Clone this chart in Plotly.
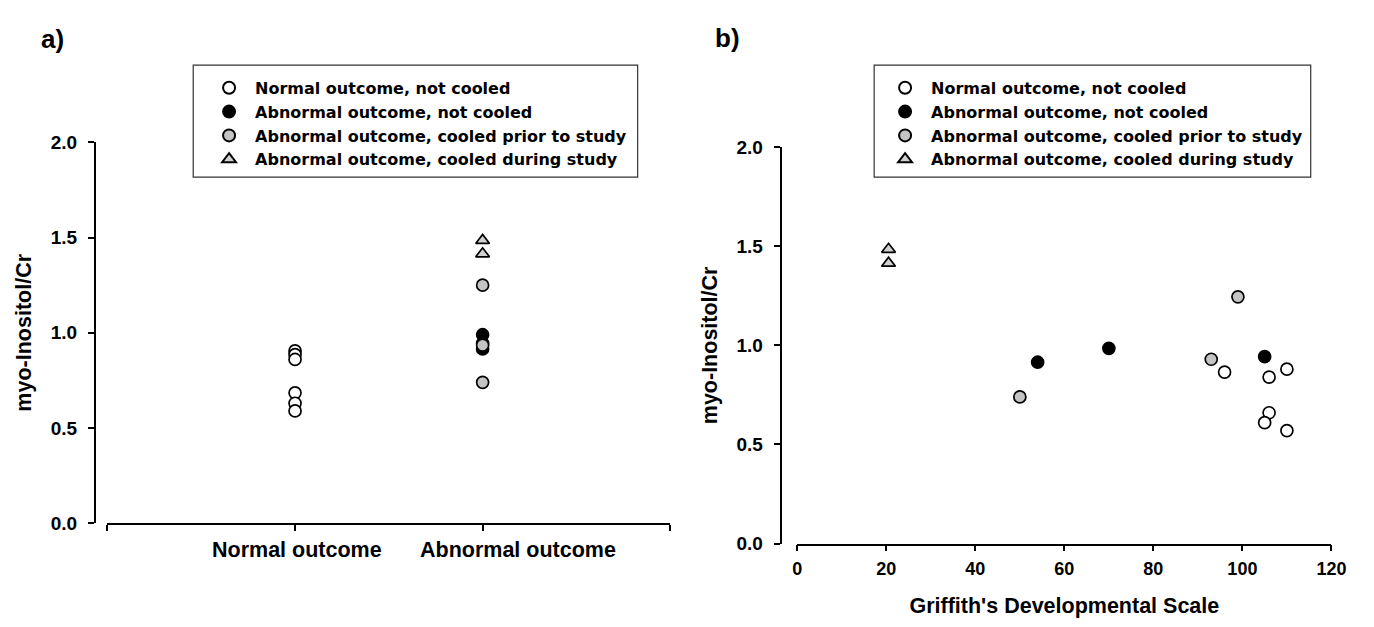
import plotly.graph_objects as go

# ---------------- data ----------------
categories = ["Normal outcome", "Abnormal outcome"]
series_names = [
    "Normal outcome, not cooled",
    "Abnormal outcome, not cooled",
    "Abnormal outcome, cooled prior to study",
    "Abnormal outcome, cooled during study",
]

# panel a: myo-Inositol/Cr by outcome group
a_normal_not_cooled = [0.905, 0.885, 0.86, 0.685, 0.63, 0.59]
a_abn_not_cooled = [0.99, 0.945, 0.915]
a_abn_cooled_prior = [1.25, 0.935, 0.74]
a_abn_cooled_during = [1.485, 1.415]

# panel b: Griffith's score vs myo-Inositol/Cr
b_normal_x = [96, 106, 110, 106, 105, 110]
b_normal_y = [0.865, 0.84, 0.88, 0.66, 0.61, 0.57]
b_abn_nc_x = [54, 70, 105]
b_abn_nc_y = [0.915, 0.985, 0.943]
b_prior_x = [50, 93, 99]
b_prior_y = [0.74, 0.93, 1.245]
b_during_x = [20.5, 20.5]
b_during_y = [1.485, 1.415]

y_ticks = [0.0, 0.5, 1.0, 1.5, 2.0]
b_x_ticks = [0, 20, 40, 60, 80, 100, 120]

# ---------------- styles ----------------
FONT = "Liberation Sans, Arial, sans-serif"
LEG_FONT = "DejaVu Sans, sans-serif"
GRAY = "#c4c4c4"
styles = [
    dict(symbol="circle", color="white"),
    dict(symbol="circle", color="black"),
    dict(symbol="circle", color=GRAY),
    dict(symbol="triangle-up", color="#d0d0d0"),
]

W, H = 1374, 627
def px(x):
    return x / W
def py(y):
    return 1 - y / H

fig = go.Figure()

a_values = [a_normal_not_cooled, a_abn_not_cooled, a_abn_cooled_prior, a_abn_cooled_during]
a_cat = [1, 2, 2, 2]
for name, vals, cat, st in zip(series_names, a_values, a_cat, styles):
    fig.add_trace(go.Scatter(
        x=[cat] * len(vals), y=vals, mode="markers", name=name,
        marker=dict(symbol=st["symbol"], color=st["color"], size=12,
                    line=dict(color="black", width=1.7)),
        xaxis="x", yaxis="y", legend="legend", cliponaxis=False,
    ))

b_xs = [b_normal_x, b_abn_nc_x, b_prior_x, b_during_x]
b_ys = [b_normal_y, b_abn_nc_y, b_prior_y, b_during_y]
for name, xs, ys, st in zip(series_names, b_xs, b_ys, styles):
    fig.add_trace(go.Scatter(
        x=xs, y=ys, mode="markers", name=name,
        marker=dict(symbol=st["symbol"], color=st["color"], size=12,
                    line=dict(color="black", width=1.7)),
        xaxis="x2", yaxis="y2", legend="legend2", cliponaxis=False,
    ))

ytick_font = dict(family=FONT, size=19, color="black", weight="bold")
xtick_font = dict(family=FONT, size=18, color="black", weight="bold")
title_font = dict(family=FONT, size=21.5, color="black", weight="bold")
axis_common = dict(showline=True, linecolor="black", linewidth=1.6, ticks="outside",
                   ticklen=6, tickwidth=1.5, tickcolor="black", showgrid=False,
                   zeroline=False)

leg_common = dict(xanchor="left", yanchor="top", borderwidth=0,
                  bgcolor="rgba(0,0,0,0)",
                  font=dict(family=LEG_FONT, size=16, color="black", weight="bold"),
                  itemwidth=42, itemsizing="constant", traceorder="normal")

fig.update_layout(
    width=W, height=H,
    margin=dict(l=0, r=0, t=0, b=0),
    paper_bgcolor="white", plot_bgcolor="white",
    font=dict(family=FONT, color="black"),
    xaxis=dict(domain=[px(104), px(675)], range=[0, 3], anchor="y",
               tickvals=[0, 1, 2, 3], ticktext=["", "", "", ""],
               tickfont=xtick_font, **axis_common),
    yaxis=dict(domain=[py(531), py(137)], range=[0, 2], anchor="free", position=px(91),
               tickvals=y_ticks, ticktext=[f"{v:.1f}" for v in y_ticks],
               ticklabelstandoff=7, tickfont=ytick_font,
               title=dict(text="myo-Inositol/Cr", font=title_font, standoff=12),
               **axis_common),
    xaxis2=dict(domain=[px(804), px(1346)], range=[0, 120], anchor="y2",
                tickvals=b_x_ticks, ticklabelstandoff=2, tickfont=xtick_font,
                title=dict(text="Griffith's Developmental Scale", font=title_font, standoff=20),
                **axis_common),
    yaxis2=dict(domain=[py(552), py(142)], range=[0, 2], anchor="free", position=px(787),
                tickvals=y_ticks, ticktext=[f"{v:.1f}" for v in y_ticks],
                ticklabelstandoff=7, tickfont=ytick_font,
                title=dict(text="myo-Inositol/Cr", font=title_font, standoff=12),
                **axis_common),
    legend=dict(x=px(201), y=py(63), **leg_common),
    legend2=dict(x=px(887), y=py(63), **leg_common),
    showlegend=True,
)

# legend frames
for x0, x1 in [(191, 642), (882, 1325)]:
    fig.add_shape(type="rect", xref="paper", yref="paper",
                  x0=px(x0), x1=px(x1), y0=py(173), y1=py(57),
                  line=dict(color="#333333", width=1.2), fillcolor="rgba(0,0,0,0)",
                  layer="below")

# category labels for panel a
cat_shift = [2, 35]
for i, (c, sh) in enumerate(zip(categories, cat_shift)):
    fig.add_annotation(x=i + 1, y=0, xref="x", yref="y", text=c, showarrow=False,
                       xshift=sh, yshift=-27, yanchor="middle", xanchor="center",
                       font=dict(family=FONT, size=21.5, color="black", weight="bold"))

# panel letters
for letter, cx, cy in [("a)", 48, 30), ("b)", 733, 29)]:
    fig.add_annotation(x=px(cx), y=py(cy), xref="paper", yref="paper", text=letter,
                       showarrow=False, xanchor="center", yanchor="middle",
                       font=dict(family=FONT, size=26, color="black", weight="bold"))

fig.write_html("out.html")
